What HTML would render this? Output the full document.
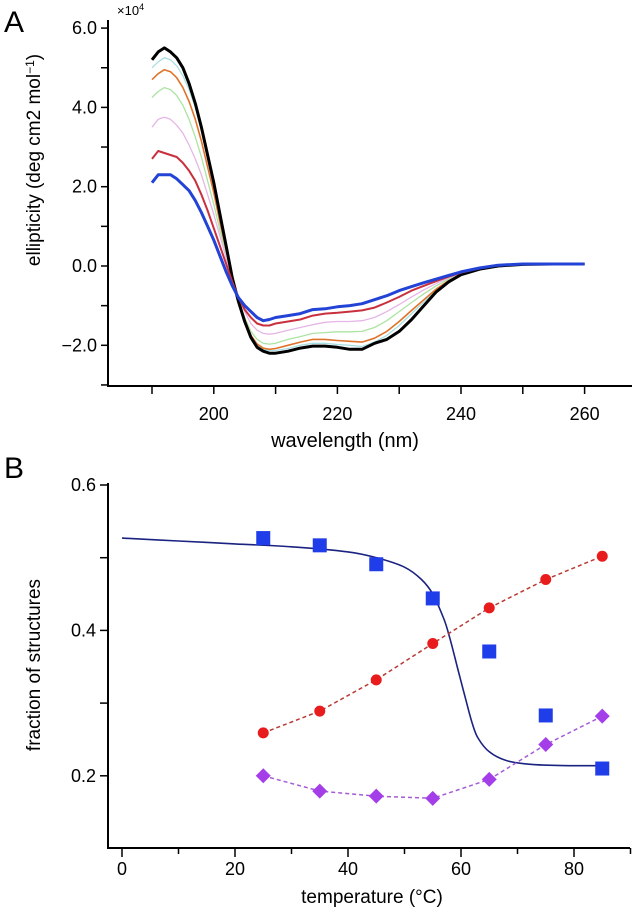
<!DOCTYPE html>
<html><head><meta charset="utf-8"><style>
body{margin:0;background:#fff;}
svg{display:block;font-family:"Liberation Sans",Arial,sans-serif;}
</style></head><body>
<svg id="fig" width="634" height="916" viewBox="0 0 634 916">
<text x="4" y="32" font-size="30">A</text>
<text x="4" y="478" font-size="30">B</text>
<text x="117" y="15" font-size="13">×10<tspan dy="-5" font-size="9">4</tspan></text>
<g id="gA"></g>
<g id="gB"></g>
<text transform="translate(40,160) rotate(-90)" text-anchor="middle" font-size="19">ellipticity (deg cm2 mol<tspan dy="-6" font-size="12">−1</tspan><tspan dy="6">)</tspan></text>
<text x="345" y="447" text-anchor="middle" font-size="20">wavelength (nm)</text>
<text transform="translate(40,665) rotate(-90)" text-anchor="middle" font-size="19">fraction of structures</text>
<text x="372" y="903" text-anchor="middle" font-size="19">temperature (°C)</text>
</svg>
<script>
const NS="http://www.w3.org/2000/svg";
// ---- Panel A data ----
const wl=[190,191,192,193,194,195,196,197,198,199,200,201,202,203,204,205,206,207,208,209,210,212,214,216,218,220,222,224,226,228,230,232,234,236,238,240,243,246,250,255,260];
const cdCyan=[5.0,5.15,5.25,5.2,5.05,4.8,4.45,4.0,3.4,2.7,2.0,1.25,0.5,-0.3,-0.9,-1.38,-1.78,-2.0,-2.1,-2.13,-2.13,-2.08,-2.0,-1.95,-1.95,-1.98,-2.0,-2.03,-1.92,-1.75,-1.5,-1.2,-0.9,-0.6,-0.38,-0.22,-0.07,0.0,0.04,0.05,0.05];
const cdGreen=[4.25,4.4,4.5,4.45,4.3,4.05,3.7,3.25,2.75,2.15,1.55,0.9,0.3,-0.3,-0.85,-1.3,-1.65,-1.85,-1.95,-1.97,-1.95,-1.85,-1.78,-1.7,-1.68,-1.66,-1.66,-1.65,-1.55,-1.38,-1.15,-0.92,-0.7,-0.5,-0.33,-0.2,-0.07,0.0,0.04,0.05,0.05];
const cdPink=[3.5,3.7,3.75,3.7,3.55,3.35,3.05,2.7,2.3,1.8,1.3,0.75,0.2,-0.35,-0.8,-1.15,-1.45,-1.62,-1.7,-1.72,-1.7,-1.62,-1.55,-1.48,-1.42,-1.4,-1.4,-1.38,-1.3,-1.15,-0.97,-0.78,-0.6,-0.44,-0.3,-0.18,-0.06,0.0,0.04,0.05,0.05];
const cdOrange=[4.7,4.85,4.95,4.9,4.75,4.5,4.15,3.7,3.15,2.5,1.85,1.1,0.4,-0.3,-0.9,-1.35,-1.75,-1.97,-2.07,-2.1,-2.08,-2.0,-1.92,-1.85,-1.85,-1.88,-1.9,-1.92,-1.82,-1.65,-1.4,-1.12,-0.85,-0.58,-0.37,-0.22,-0.08,0.0,0.04,0.05,0.05];
const cdBlack=[5.2,5.4,5.5,5.4,5.25,5.0,4.6,4.1,3.5,2.8,2.1,1.3,0.5,-0.3,-0.9,-1.4,-1.8,-2.05,-2.15,-2.2,-2.2,-2.15,-2.07,-2.02,-2.02,-2.05,-2.1,-2.1,-1.95,-1.85,-1.65,-1.35,-1.0,-0.65,-0.4,-0.22,-0.08,0.0,0.04,0.05,0.05];
const cdRed=[2.7,2.9,2.85,2.8,2.75,2.6,2.4,2.15,1.8,1.4,0.95,0.5,0.05,-0.4,-0.8,-1.1,-1.3,-1.45,-1.5,-1.5,-1.45,-1.4,-1.35,-1.25,-1.2,-1.18,-1.15,-1.12,-1.05,-0.92,-0.78,-0.62,-0.5,-0.38,-0.27,-0.17,-0.06,0.02,0.05,0.05,0.05];
const cdBlue=[2.1,2.3,2.3,2.3,2.2,2.05,1.9,1.65,1.35,1.0,0.65,0.25,-0.15,-0.5,-0.8,-1.0,-1.15,-1.3,-1.38,-1.35,-1.3,-1.25,-1.2,-1.1,-1.08,-1.03,-1.0,-0.95,-0.85,-0.75,-0.62,-0.52,-0.42,-0.33,-0.24,-0.15,-0.05,0.02,0.05,0.05,0.05];
const aYTicks=[-2,0,2,4,6];
const aYTickLabels=["−2.0","0.0","2.0","4.0","6.0"];
const aXTicks=[200,220,240,260];
// ---- Panel B data ----
const temps=[25,35,45,55,65,75,85];
const helix=[0.527,0.517,0.491,0.444,0.371,0.283,0.210];
const coil=[0.259,0.289,0.332,0.382,0.431,0.470,0.502];
const sheet=[0.200,0.179,0.172,0.169,0.195,0.243,0.282];
const fitT=[0,10,20,30,40,45,50,53,55,57,58,59,60,61,62,63,65,68,72,78,85];
const fitV=[0.527,0.523,0.519,0.515,0.508,0.500,0.487,0.470,0.450,0.415,0.390,0.360,0.330,0.300,0.272,0.252,0.233,0.221,0.216,0.214,0.214];
const bYTicks=[0.2,0.4,0.6];
const bYTickLabels=["0.2","0.4","0.6"];
const bXTicks=[0,20,40,60,80];

const ax=w=>152+(w-190)*6.18;
const ay=v=>266-v*39.65;
const bx=t=>122+t*5.65;
const by=v=>485+(0.6-v)*727;

function el(tag,attrs,parent){const e=document.createElementNS(NS,tag);for(const k in attrs)e.setAttribute(k,attrs[k]);parent.appendChild(e);return e;}
function smooth(pts){let d='M'+pts[0][0].toFixed(1)+' '+pts[0][1].toFixed(1);
  for(let i=0;i<pts.length-1;i++){const p0=pts[Math.max(0,i-1)],p1=pts[i],p2=pts[i+1],p3=pts[Math.min(pts.length-1,i+2)];
    const c1=[p1[0]+(p2[0]-p0[0])/6,p1[1]+(p2[1]-p0[1])/6],c2=[p2[0]-(p3[0]-p1[0])/6,p2[1]-(p3[1]-p1[1])/6];
    d+=` C${c1[0].toFixed(1)} ${c1[1].toFixed(1)} ${c2[0].toFixed(1)} ${c2[1].toFixed(1)} ${p2[0].toFixed(1)} ${p2[1].toFixed(1)}`;}
  return d;}
const gA=document.getElementById('gA'),gB=document.getElementById('gB');

// Panel A axes
let e=el('path',{d:`M108 20 V386 H632`,fill:'none',stroke:'#000','stroke-width':2},gA);


for(let v=-3;v<=6;v++){
  e=el('line',{x1:101,x2:108,y1:ay(v),y2:ay(v),stroke:'#000','stroke-width':1.5},gA);
  
  
}
aYTicks.forEach((v,i)=>{e=el('text',{x:97,y:ay(v)+6,'text-anchor':'end','font-size':18},gA);e.textContent=aYTickLabels[i];
  
  });
for(let w=190;w<=260;w+=10){
  e=el('line',{x1:ax(w),x2:ax(w),y1:386,y2:394,stroke:'#000','stroke-width':1.5},gA);
  
  
}
aXTicks.forEach(w=>{e=el('text',{x:ax(w),y:420,'text-anchor':'middle','font-size':18},gA);e.textContent=w;
  
  });
const series=[[cdCyan,'#a9dfe3',1.3,'cd-spectrum-cyan'],[cdGreen,'#ade3a3',1.3,'cd-spectrum-green'],[cdPink,'#e6b6e6',1.3,'cd-spectrum-pink'],[cdOrange,'#e0732a',1.6,'cd-spectrum-orange'],[cdBlack,'#000',3,'cd-spectrum-black'],[cdRed,'#c9303e',2,'cd-spectrum-red'],[cdBlue,'#2343d6',3,'cd-spectrum-blue']];
series.forEach(s=>{
  const d=wl.map((w,i)=>(i?'L':'M')+ax(w).toFixed(1)+' '+ay(s[0][i]).toFixed(1)).join(' ');
  e=el('path',{d,fill:'none',stroke:s[1],'stroke-width':s[2],'stroke-linejoin':'round'},gA);
  
  
});

// Panel B axes
e=el('path',{d:`M108 483 V848 H630`,fill:'none',stroke:'#000','stroke-width':2},gB);


[0.2,0.3,0.4,0.5,0.6].forEach(v=>{
  e=el('line',{x1:100,x2:108,y1:by(v),y2:by(v),stroke:'#000','stroke-width':1.5},gB);
  
  
});
bYTicks.forEach((v,i)=>{e=el('text',{x:96,y:by(v)+6,'text-anchor':'end','font-size':18},gB);e.textContent=bYTickLabels[i];
  
  });
for(let t=0;t<=90;t+=10){
  e=el('line',{x1:bx(t),x2:bx(t),y1:848,y2:t%20?854:857,stroke:'#000','stroke-width':1.5},gB);
  
  
}
bXTicks.forEach(t=>{e=el('text',{x:bx(t),y:875,'text-anchor':'middle','font-size':18},gB);e.textContent=t;
  
  });
// fit curve
e=el('path',{d:smooth(fitT.map((t,i)=>[bx(t),by(fitV[i])])),fill:'none',stroke:'#1b2380','stroke-width':1.6,'stroke-linejoin':'round'},gB);


// dashed lines
[[coil,'#b83a34','coil-dashed-line'],[sheet,'#a45cd4','sheet-dashed-line']].forEach(s=>{
  const d=temps.map((t,i)=>(i?'L':'M')+bx(t).toFixed(1)+' '+by(s[0][i]).toFixed(1)).join(' ');
  e=el('path',{d,fill:'none',stroke:s[1],'stroke-width':1.5,'stroke-dasharray':'4 3'},gB);
  
  
});
temps.forEach((t,i)=>{
  e=el('rect',{x:bx(t)-7,y:by(helix[i])-7,width:14,height:14,fill:'#1f3de8'},gB);
  
  
  e=el('circle',{cx:bx(t),cy:by(coil[i]),r:5.5,fill:'#e81c1c'},gB);
  
  
  const cx=bx(t),cy=by(sheet[i]);
  e=el('polygon',{points:`${cx},${cy-7.5} ${cx+7.5},${cy} ${cx},${cy+7.5} ${cx-7.5},${cy}`,fill:'#a43ee8'},gB);
  
  
});
</script>
</body></html>
